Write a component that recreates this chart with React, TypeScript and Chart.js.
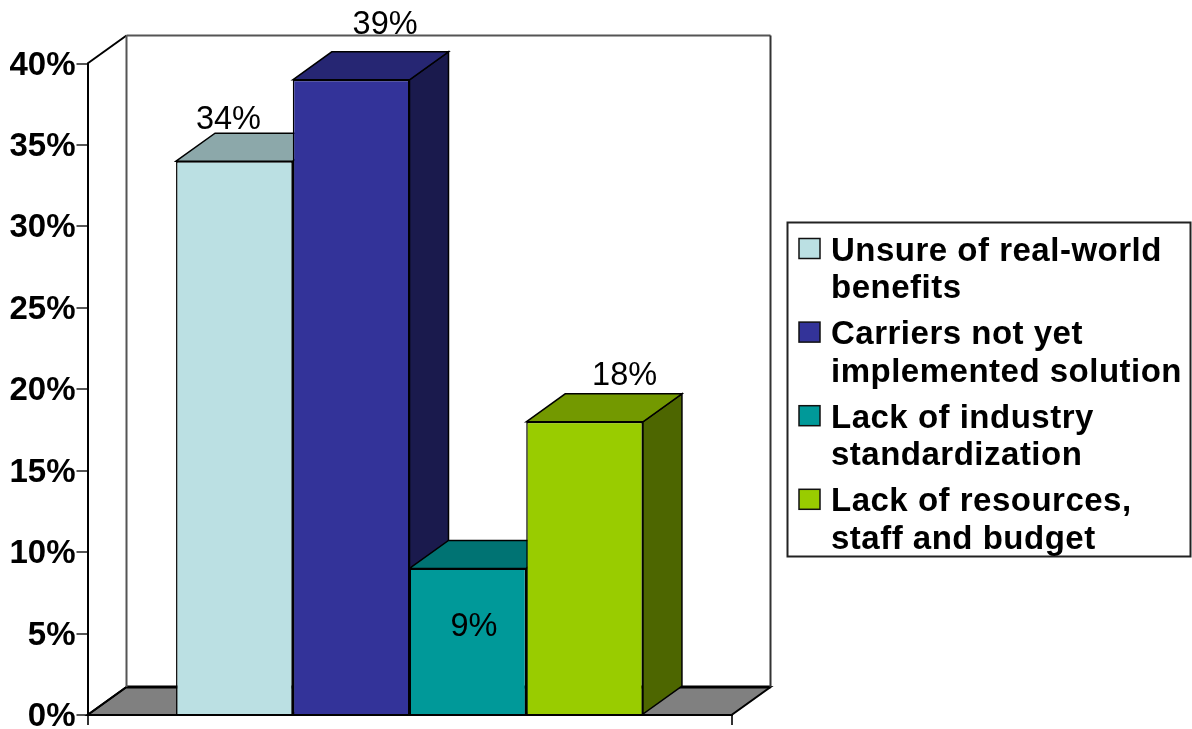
import React, { useEffect, useRef } from "react";
import { Chart, registerables } from "chart.js";

Chart.register(...registerables);

const categories = [""];
const seriesNames = [
  "Unsure of real-world benefits",
  "Carriers not yet implemented solution",
  "Lack of industry standardization",
  "Lack of resources, staff and budget",
];
const legendLines = [
  ["Unsure of real-world", "benefits"],
  ["Carriers not yet", "implemented solution"],
  ["Lack of industry", "standardization"],
  ["Lack of resources,", "staff and budget"],
];
const seriesValues = [34, 39, 9, 18];
const frontColors = ["#BBE0E3", "#333399", "#009999", "#99CC00"];
const topColors = ["#8CA8AA", "#262673", "#007373", "#739900"];
const sideColors = ["#5E7071", "#1A1A4D", "#004D4D", "#4D6600"];

// Offset of the back wall from the front plane.
const DEPTH_X = 39;
const DEPTH_Y = -28;
const FONT = '"Liberation Sans", Arial, sans-serif';

// Where each value label sits relative to the top centre of its bar.
const labelShift = [
  { dx: -6, dy: -32 },
  { dx: 34, dy: -46 },
  { dx: 6, dy: 68 },
  { dx: 40, dy: -37 },
];

function polygon(ctx: CanvasRenderingContext2D, pts: number[][], fill: string | null, stroke: string, width: number) {
  ctx.beginPath();
  pts.forEach(([x, y], i) => (i ? ctx.lineTo(x, y) : ctx.moveTo(x, y)));
  ctx.closePath();
  if (fill) {
    ctx.fillStyle = fill;
    ctx.fill();
  }
  ctx.strokeStyle = stroke;
  ctx.lineWidth = width;
  ctx.stroke();
}

function segment(ctx: CanvasRenderingContext2D, x1: number, y1: number, x2: number, y2: number, color: string, width: number) {
  ctx.beginPath();
  ctx.moveTo(x1, y1);
  ctx.lineTo(x2, y2);
  ctx.strokeStyle = color;
  ctx.lineWidth = width;
  ctx.stroke();
}

// Back wall, side wall and floor of the 3D box, then the depth faces of the bars.
const depthPlugin = {
  id: "depth",
  beforeDatasetsDraw(chart: any) {
    const { ctx, chartArea: a } = chart;
    ctx.save();
    const backL = a.left + DEPTH_X;
    const backR = a.right + DEPTH_X;
    const backT = a.top + DEPTH_Y;
    const backB = a.bottom + DEPTH_Y;
    polygon(ctx, [[a.left, a.bottom], [backL, backB], [backR, backB], [a.right, a.bottom]], "#808080", "#000", 2);
    segment(ctx, backL, backB, backR, backB, "#000", 3);
    segment(ctx, a.left, a.top, backL, backT, "#000", 2);
    segment(ctx, a.left, a.bottom, backL, backB, "#000", 2);
    segment(ctx, backL, backT, backR, backT, "#555", 2);
    segment(ctx, backL, backT, backL, backB, "#555", 2);
    segment(ctx, backR, backT, backR, backB, "#333", 2);

    seriesValues.forEach((_, i) => {
      const bar = chart.getDatasetMeta(i).data[0];
      const half = bar.width / 2;
      const l = bar.x - half;
      const r = bar.x + half;
      polygon(ctx, [[r, bar.y], [r + DEPTH_X, bar.y + DEPTH_Y], [r + DEPTH_X, bar.base + DEPTH_Y], [r, bar.base]], sideColors[i], "#000", 1.5);
      polygon(ctx, [[l, bar.y], [l + DEPTH_X, bar.y + DEPTH_Y], [r + DEPTH_X, bar.y + DEPTH_Y], [r, bar.y]], topColors[i], "#000", 1.5);
    });
    ctx.restore();
  },
  afterDatasetsDraw(chart: any) {
    const { ctx } = chart;
    ctx.save();
    ctx.font = `32.5px ${FONT}`;
    ctx.fillStyle = "#000";
    ctx.textAlign = "center";
    ctx.textBaseline = "alphabetic";
    seriesValues.forEach((v, i) => {
      const bar = chart.getDatasetMeta(i).data[0];
      ctx.fillText(`${v}%`, bar.x + labelShift[i].dx, bar.y + labelShift[i].dy);
    });
    ctx.restore();
  },
};

// Boxed legend with two-line entries, to the right of the plot.
const boxedLegend = {
  id: "boxedLegend",
  afterDraw(chart: any) {
    const { ctx } = chart;
    ctx.save();
    ctx.fillStyle = "#fff";
    ctx.fillRect(787.5, 222.5, 403, 334);
    ctx.strokeStyle = "#222";
    ctx.lineWidth = 2;
    ctx.strokeRect(787.5, 222.5, 403, 334);
    ctx.font = `bold 33px ${FONT}`;
    ctx.textBaseline = "alphabetic";
    ctx.textAlign = "left";
    (ctx as any).letterSpacing = "0.5px";
    legendLines.forEach((lines, i) => {
      const top = 238.5 + i * 83.6;
      ctx.fillStyle = frontColors[i];
      ctx.fillRect(799, top, 21, 20);
      ctx.strokeStyle = "#111";
      ctx.lineWidth = 1.5;
      ctx.strokeRect(799, top, 21, 20);
      ctx.fillStyle = "#000";
      lines.forEach((line, j) => ctx.fillText(line, 831, 260.5 + i * 83.6 + j * 37.4));
    });
    ctx.restore();
  },
};

export default function App() {
  const ref = useRef<HTMLCanvasElement>(null);

  useEffect(() => {
    const chart = new Chart(ref.current!, {
      type: "bar",
      data: {
        labels: categories,
        datasets: seriesValues.map((v, i) => ({
          label: seriesNames[i],
          data: [v],
          backgroundColor: frontColors[i],
          borderColor: "#000",
          borderWidth: 1.5,
          categoryPercentage: 0.725,
          barPercentage: 1,
        })),
      },
      options: {
        animation: false,
        responsive: false,
        layout: { padding: { top: 63.5, right: 460.5, bottom: 4, left: 0 } },
        plugins: { legend: { display: false }, tooltip: { enabled: false } },
        scales: {
          x: {
            afterFit: (s: any) => { s.height = 10; },
            border: { color: "#000", width: 2 },
            grid: { drawOnChartArea: false, tickLength: 10, color: "#333", lineWidth: 2 },
            ticks: { display: false },
          },
          y: {
            min: 0,
            max: 40,
            // The tick labels may overhang the plot; the plot edges stay where they are set.
            afterFit: (s: any) => {
              s.width = 87.5;
              s.paddingBottom = 0;
              s.paddingTop = 0;
            },
            border: { color: "#000", width: 2 },
            grid: { drawOnChartArea: false, tickLength: 11, color: "#555", lineWidth: 2 },
            ticks: {
              stepSize: 5,
              padding: 1,
              labelOffset: 2,
              color: "#000",
              font: { family: FONT, size: 33, weight: "bold" },
              callback: (v: any) => `${v}%`,
            },
          },
        },
      },
      plugins: [depthPlugin, boxedLegend],
    } as any);
    return () => chart.destroy();
  }, []);

  return (
    <div style={{ position: "absolute", left: 0, top: 0, background: "#fff" }}>
      <canvas ref={ref} width={1192} height={729} style={{ display: "block" }} />
    </div>
  );
}
